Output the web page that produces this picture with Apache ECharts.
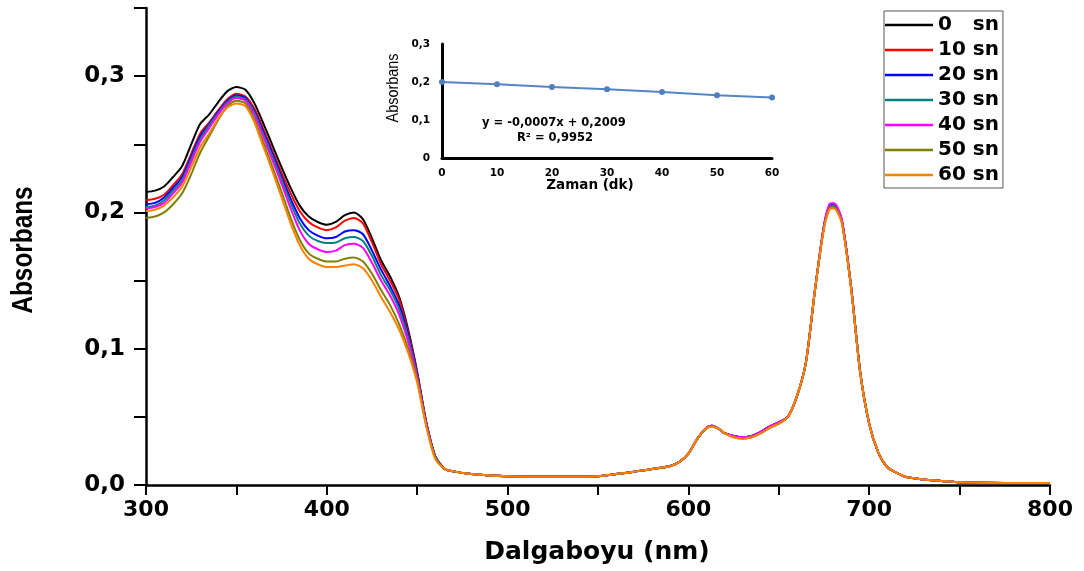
<!DOCTYPE html>
<html>
<head>
<meta charset="utf-8">
<script src="https://cdn.jsdelivr.net/npm/echarts@6/dist/echarts.min.js"></script>
<style>
html,body{margin:0;padding:0;background:#fff;}
#chart{width:1084px;height:571px;}
</style>
</head>
<body>
<div id="chart"></div>
<script>
// ---------- DATA ----------
const wavelengths = [300,305,310,315,320,325,330,335,340,345,350,355,360,365,370,375,380,385,390,395,400,405,410,415,420,425,430,435,440,445,450,455,460,465,470,480,490,500,520,540,550,560,570,580,590,595,600,605,610,613,617,620,625,630,635,640,645,650,655,660,665,670,675,678,680,682,685,690,695,700,705,710,715,720,730,740,750,775,800];

const abs0sn  = [0.215,0.216,0.219,0.226,0.234,0.250,0.265,0.272,0.281,0.289,0.292,0.290,0.280,0.265,0.249,0.233,0.218,0.205,0.197,0.193,0.191,0.193,0.198,0.200,0.195,0.181,0.165,0.153,0.138,0.114,0.083,0.046,0.021,
  0.012,0.010,0.008,0.007,0.0065,0.006,0.006,0.0065,0.008,0.0098,0.0117,0.014,0.017,0.023,0.034,0.042,0.0435,0.041,0.038,0.036,0.035,0.036,0.039,0.043,0.046,0.050,0.065,0.090,0.143,0.190,0.204,0.205,0.203,0.193,0.145,0.083,0.045,0.024,0.013,0.009,0.006,0.004,0.003,0.002,0.0015,0.0015];
const abs10sn = [0.209,0.210,0.213,0.220,0.228,0.243,0.258,0.266,0.275,0.283,0.287,0.285,0.276,0.261,0.245,0.229,0.214,0.201,0.193,0.189,0.187,0.189,0.194,0.196,0.192,0.178,0.162,0.150,0.136,0.112,0.082,0.046,0.021,
  0.012,0.010,0.008,0.007,0.0065,0.006,0.006,0.0065,0.008,0.0098,0.0117,0.014,0.017,0.023,0.034,0.042,0.0435,0.041,0.038,0.036,0.035,0.036,0.039,0.043,0.046,0.050,0.065,0.090,0.143,0.190,0.205,0.206,0.204,0.193,0.145,0.083,0.045,0.024,0.013,0.009,0.006,0.004,0.003,0.002,0.0015,0.0015];
const abs20sn = [0.206,0.207,0.211,0.218,0.226,0.241,0.256,0.265,0.274,0.282,0.286,0.284,0.274,0.259,0.243,0.226,0.210,0.196,0.187,0.183,0.181,0.182,0.186,0.187,0.184,0.172,0.158,0.146,0.132,0.110,0.081,0.046,0.021,
  0.012,0.010,0.008,0.007,0.0065,0.006,0.006,0.0065,0.008,0.0098,0.0117,0.014,0.017,0.023,0.034,0.042,0.0435,0.041,0.038,0.036,0.035,0.036,0.039,0.043,0.046,0.050,0.065,0.090,0.143,0.190,0.205,0.206,0.204,0.193,0.145,0.083,0.045,0.024,0.013,0.009,0.006,0.004,0.003,0.002,0.0015,0.0015];
const abs30sn = [0.204,0.205,0.209,0.216,0.224,0.239,0.254,0.264,0.273,0.281,0.285,0.283,0.273,0.257,0.241,0.224,0.207,0.192,0.183,0.179,0.1775,0.178,0.181,0.182,0.179,0.168,0.154,0.143,0.129,0.108,0.080,0.045,0.021,
  0.012,0.010,0.008,0.007,0.0065,0.006,0.006,0.0065,0.008,0.0098,0.0117,0.014,0.017,0.023,0.034,0.042,0.0435,0.041,0.038,0.036,0.035,0.036,0.038,0.042,0.045,0.050,0.065,0.090,0.143,0.190,0.204,0.205,0.203,0.193,0.145,0.083,0.045,0.024,0.013,0.009,0.006,0.004,0.003,0.002,0.0015,0.0015];
const abs40sn = [0.203,0.204,0.207,0.214,0.222,0.237,0.252,0.262,0.272,0.280,0.284,0.282,0.271,0.255,0.238,0.221,0.203,0.187,0.177,0.173,0.171,0.172,0.176,0.177,0.174,0.163,0.150,0.139,0.125,0.105,0.079,0.045,0.020,
  0.012,0.010,0.008,0.007,0.0065,0.006,0.006,0.0065,0.008,0.0098,0.0117,0.014,0.017,0.023,0.034,0.042,0.0435,0.041,0.038,0.036,0.035,0.036,0.039,0.043,0.046,0.050,0.065,0.090,0.143,0.191,0.206,0.207,0.205,0.194,0.146,0.083,0.045,0.024,0.013,0.009,0.006,0.004,0.003,0.002,0.0015,0.0015];
const abs50sn = [0.196,0.197,0.200,0.206,0.214,0.228,0.244,0.256,0.268,0.278,0.282,0.280,0.268,0.251,0.233,0.215,0.196,0.180,0.170,0.166,0.164,0.164,0.166,0.167,0.164,0.155,0.143,0.132,0.118,0.100,0.077,0.044,0.020,
  0.012,0.010,0.008,0.007,0.0065,0.006,0.006,0.0065,0.008,0.0098,0.0117,0.014,0.017,0.023,0.034,0.0415,0.043,0.041,0.038,0.035,0.034,0.035,0.038,0.042,0.045,0.050,0.065,0.090,0.143,0.189,0.203,0.204,0.202,0.192,0.145,0.083,0.045,0.024,0.013,0.009,0.006,0.004,0.003,0.002,0.0015,0.0015];
const abs60sn = [0.201,0.202,0.205,0.211,0.219,0.233,0.248,0.258,0.269,0.277,0.280,0.278,0.266,0.248,0.230,0.211,0.192,0.176,0.166,0.162,0.160,0.160,0.161,0.162,0.159,0.150,0.138,0.127,0.114,0.097,0.075,0.043,0.019,
  0.012,0.010,0.008,0.007,0.0065,0.006,0.006,0.0065,0.008,0.0098,0.0117,0.014,0.017,0.023,0.034,0.042,0.043,0.041,0.038,0.035,0.034,0.035,0.038,0.042,0.045,0.050,0.065,0.090,0.143,0.188,0.202,0.203,0.201,0.191,0.144,0.082,0.045,0.024,0.013,0.009,0.006,0.004,0.003,0.002,0.0015,0.0015];

const seriesNames = ['0   sn','10 sn','20 sn','30 sn','40 sn','50 sn','60 sn'];
const seriesValues = [abs0sn, abs10sn, abs20sn, abs30sn, abs40sn, abs50sn, abs60sn];

// inset: absorbance vs time
const minutes = [0,10,20,30,40,50,60];
const insetAbs = [0.200,0.194,0.187,0.181,0.174,0.165,0.159];
const equationText = 'y = -0,0007x + 0,2009';
const r2Text = 'R\u00B2 = 0,9952';

// ---------- STYLE ----------
const seriesColors = ['#000000','#ff0000','#0000ff','#008080','#ff00ff','#808000','#ff8000'];
const BOLD_WIDE = 'DejaVu Sans';

const chart = echarts.init(document.getElementById('chart'), null, {renderer:'canvas'});

const mainSeries = seriesNames.map((name, i) => ({
  name: name,
  type: 'line',
  xAxisIndex: 0,
  yAxisIndex: 0,
  showSymbol: false,
  symbol: 'none',
  smooth: 0.25,
  animation: false,
  lineStyle: {color: seriesColors[i], width: 2},
  itemStyle: {color: seriesColors[i]},
  data: wavelengths.map((w, k) => [w, seriesValues[i][k]])
}));

const option = {
  backgroundColor: '#ffffff',
  animation: false,
  grid: [
    {left: 146, right: 34, top: 8, bottom: 86, containLabel: false},
    {left: 442, top: 44, width: 330, height: 114, containLabel: false}
  ],
  legend: {
    data: seriesNames,
    orient: 'vertical',
    left: 884,
    top: 11,
    padding: [4, 4, 3, 1],
    itemWidth: 48,
    itemHeight: 2.5,
    itemGap: 5,
    itemTextGap: 8,
    icon: 'rect',
    borderColor: '#555',
    borderWidth: 1,
    backgroundColor: '#fff',
    textStyle: {fontFamily: BOLD_WIDE, fontWeight: 'bold', fontSize: 20, color: '#000', lineHeight: 20}
  },
  xAxis: [
    {
      type: 'value', gridIndex: 0, min: 300, max: 800, interval: 50,
      axisLine: {show: true, onZero: false, lineStyle: {color: '#000', width: 2.5}},
      axisTick: {show: true, inside: false, length: 10, lineStyle: {color: '#000', width: 2}},
      axisLabel: {
        margin: 14, color: '#000', fontFamily: BOLD_WIDE, fontWeight: 'bold', fontSize: 22,
        formatter: v => (v % 100 === 0 ? String(v) : '')
      },
      splitLine: {show: false}
    },
    {
      type: 'value', gridIndex: 1, min: 0, max: 60, interval: 10,
      axisLine: {show: true, onZero: false, lineStyle: {color: '#000', width: 3}},
      axisTick: {show: false},
      axisLabel: {margin: 10, color: '#000', fontFamily: BOLD_WIDE, fontWeight: 'bold', fontSize: 10.5},
      splitLine: {show: false}
    }
  ],
  yAxis: [
    {
      type: 'value', gridIndex: 0, min: 0, max: 0.35, interval: 0.05,
      axisLine: {show: true, onZero: false, lineStyle: {color: '#000', width: 2.5}},
      axisTick: {show: true, inside: false, length: 12, lineStyle: {color: '#000', width: 2}},
      axisLabel: {
        margin: 21, color: '#000', fontFamily: BOLD_WIDE, fontWeight: 'bold', fontSize: 23,
        formatter: v => (Math.round(v * 100) % 10 === 0 ? v.toFixed(1).replace('.', ',') : '')
      },
      splitLine: {show: false}
    },
    {
      type: 'value', gridIndex: 1, min: 0, max: 0.3, interval: 0.1,
      axisLine: {show: true, onZero: false, lineStyle: {color: '#000', width: 3}},
      axisTick: {show: false},
      axisLabel: {
        margin: 12, color: '#000', fontFamily: BOLD_WIDE, fontWeight: 'bold', fontSize: 10.5,
        formatter: v => (v === 0 ? '0' : v.toFixed(1).replace('.', ','))
      },
      splitLine: {show: false}
    }
  ],
  series: mainSeries.concat([{
    name: 'inset',
    type: 'line',
    xAxisIndex: 1,
    yAxisIndex: 1,
    symbol: 'circle',
    symbolSize: 6,
    showSymbol: true,
    lineStyle: {color: '#5585c4', width: 2},
    itemStyle: {color: '#4f7fbf'},
    data: minutes.map((m, k) => [m, insetAbs[k]])
  }]),
  graphic: [
    {type: 'text', x: 24, y: 250, rotation: Math.PI / 2, scaleX: 0.84,
      style: {text: 'Absorbans', font: 'bold 29px "Liberation Sans", Arial', fill: '#000', textAlign: 'center', textVerticalAlign: 'middle'}},
    {type: 'text', x: 597, y: 552,
      style: {text: 'Dalgaboyu (nm)', font: 'bold 25px "DejaVu Sans"', fill: '#000', textAlign: 'center', textVerticalAlign: 'middle'}},
    {type: 'text', x: 394, y: 88, rotation: Math.PI / 2, scaleX: 0.9,
      style: {text: 'Absorbans', font: '16px "Liberation Sans", Arial', fill: '#000', textAlign: 'center', textVerticalAlign: 'middle'}},
    {type: 'text', x: 590, y: 185,
      style: {text: 'Zaman (dk)', font: 'bold 13.5px "DejaVu Sans"', fill: '#000', textAlign: 'center', textVerticalAlign: 'middle'}},
    {type: 'text', x: 482, y: 123,
      style: {text: equationText, font: 'bold 11.5px "DejaVu Sans"', fill: '#000', textAlign: 'left', textVerticalAlign: 'middle'}},
    {type: 'text', x: 517, y: 138,
      style: {text: r2Text, font: 'bold 11.5px "DejaVu Sans"', fill: '#000', textAlign: 'left', textVerticalAlign: 'middle'}}
  ]
};

chart.setOption(option);
</script>
</body>
</html>
